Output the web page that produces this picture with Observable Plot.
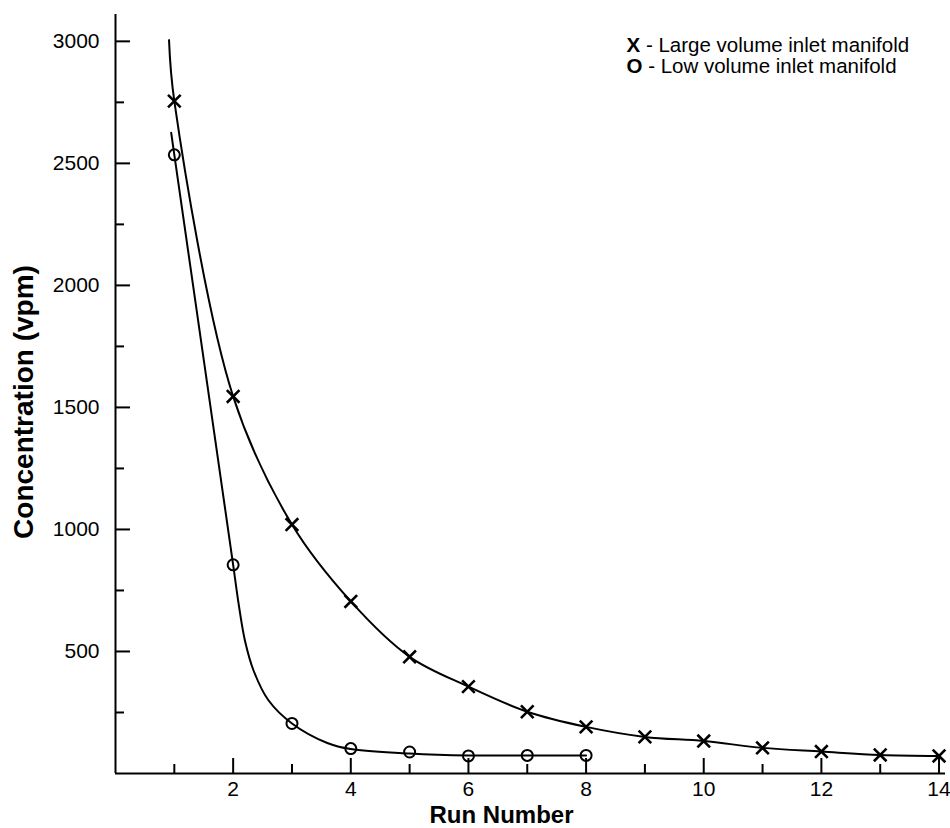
<!DOCTYPE html>
<html>
<head>
<meta charset="utf-8">
<script src="https://cdn.jsdelivr.net/npm/d3@7"></script>
<script src="https://cdn.jsdelivr.net/npm/@observablehq/plot@0.6"></script>
<style>
  html, body { margin: 0; padding: 0; background: #fff; }
  #chart svg { display: block; font-family: "Liberation Sans", Arial, sans-serif; }
</style>
</head>
<body>
<div id="chart"></div>
<script>
// ---- data ----
const runs = [1, 2, 3, 4, 5, 6, 7, 8, 9, 10, 11, 12, 13, 14];
const largeVolume = [2755, 1545, 1020, 705, 478, 356, 253, 191, 150, 133, 105, 90, 76, 72];
const lowRuns = [1, 2, 3, 4, 5, 6, 7, 8];
const lowVolume = [2535, 855, 205, 102, 88, 72, 74, 74];

// fitted curves
const largeFitX = [0.91, 1, 2, 3, 4, 5, 6, 7, 8, 9, 10, 11, 12, 13, 14];
const largeFitY = [3005, 2755, 1545, 1020, 705, 478, 356, 253, 191, 150, 133, 105, 90, 76, 72];
const lowFitX = [0.947, 1, 2, 2.09, 2.2, 2.35, 2.6, 3, 3.6, 4, 5, 6, 7, 8];
const lowFitY = [2625, 2535, 855, 700, 545, 420, 300, 205, 125, 100, 82, 74, 74, 74];

// ticks
const xMajor = [2, 4, 6, 8, 10, 12, 14];
const xMinor = [1, 3, 5, 7, 9, 11, 13];
const yMajor = [500, 1000, 1500, 2000, 2500, 3000];
const yMinor = [250, 750, 1250, 1750, 2250, 2750];

// labels
const xLabel = "Run Number";
const yLabel = "Concentration (vpm)";
const legendSymbols = ["X", "O"];
const legendTexts = [" - Large volume inlet manifold", " - Low volume inlet manifold"];

// ---- build ----
const W = 950, H = 828;
const mL = 115, mR = 5, mT = 14, mB = 55;
const plotW = W - mL - mR, plotH = H - mT - mB;

const largePts = runs.map((r, i) => ({x: r, y: largeVolume[i]}));
const lowPts = lowRuns.map((r, i) => ({x: r, y: lowVolume[i]}));
const largeFit = largeFitX.map((x, i) => ({x, y: largeFitY[i]}));
const lowFit = lowFitX.map((x, i) => ({x, y: lowFitY[i]}));
const legendLines = legendSymbols.map((s, i) => s + legendTexts[i]);

const font = "Liberation Sans, Arial, sans-serif";

const chart = Plot.plot({
  width: W,
  height: H,
  marginLeft: mL,
  marginRight: mR,
  marginTop: mT,
  marginBottom: mB,
  style: {fontFamily: font, color: "#000", background: "#fff"},
  x: {domain: [0, 14.11]},
  y: {domain: [0, 3110]},
  marks: [
    // axis lines
    Plot.ruleX([0], {strokeWidth: 2}),
    Plot.ruleY([0], {strokeWidth: 2}),
    // inward ticks
    Plot.tickY(yMajor, {y: d => d, insetRight: plotW - 15, strokeWidth: 2}),
    Plot.tickY(yMinor, {y: d => d, insetRight: plotW - 9, strokeWidth: 2}),
    Plot.tickX(xMajor, {x: d => d, insetTop: plotH - 15, strokeWidth: 2}),
    Plot.tickX(xMinor, {x: d => d, insetTop: plotH - 9, strokeWidth: 2}),
    // tick labels
    Plot.axisY(yMajor, {tickSize: 0, tickPadding: 16, fontSize: 21, tickFormat: d => String(d), label: null}),
    Plot.axisX(xMajor, {tickSize: 0, tickPadding: 8, fontSize: 21, tickFormat: d => String(d), label: null}),
    // axis titles
    Plot.text([yLabel], {frameAnchor: "left", textAnchor: "middle", lineAnchor: "middle", dx: -91, dy: 8, rotate: -90, fontSize: 28, fontWeight: "bold"}),
    Plot.text([xLabel], {frameAnchor: "bottom", textAnchor: "middle", lineAnchor: "middle", dx: -29, dy: 42, fontSize: 24, fontWeight: "bold"}),
    // fitted curves
    Plot.line(largeFit, {x: "x", y: "y", curve: "catmull-rom", stroke: "#000", strokeWidth: 2}),
    Plot.line(lowFit, {x: "x", y: "y", curve: "catmull-rom", stroke: "#000", strokeWidth: 2}),
    // data markers
    Plot.dot(largePts, {x: "x", y: "y", symbol: "times", r: 5.8, stroke: "#000", strokeWidth: 2.6}),
    Plot.dot(lowPts, {x: "x", y: "y", symbol: "circle", r: 5.5, stroke: "#000", fill: "none", strokeWidth: 2}),
    // legend
    Plot.text([legendLines[0]], {frameAnchor: "top-left", textAnchor: "start", lineAnchor: "middle", dx: 511, dy: 30.5, fontSize: 20.5}),
    Plot.text([legendLines[1]], {frameAnchor: "top-left", textAnchor: "start", lineAnchor: "middle", dx: 511, dy: 51.5, fontSize: 20.5})
  ]
});

// bold the symbol letter of each legend line (text stays real text)
d3.select(chart).selectAll("text").filter(function() {
  return legendLines.includes(this.textContent);
}).each(function() {
  const i = legendLines.indexOf(this.textContent);
  const el = d3.select(this);
  el.text(null);
  el.append("tspan").attr("font-weight", "bold").text(legendSymbols[i]);
  el.append("tspan").text(legendTexts[i]);
});

document.getElementById("chart").appendChild(chart);
</script>
</body>
</html>
